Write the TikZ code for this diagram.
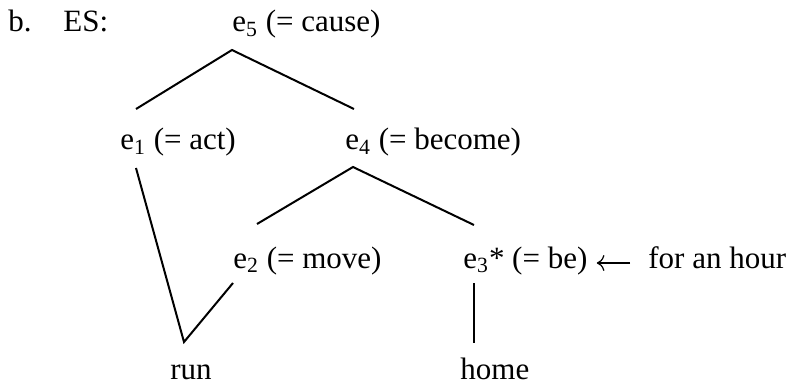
\documentclass[tikz,border=0pt]{standalone}
\usepackage{fontspec}
\setmainfont{Liberation Serif}
\usetikzlibrary{arrows.meta}
\usetikzlibrary{positioning}
\tikzset{
  ev/.style={inner sep=0pt, anchor=base west, font=\fontsize{15.5}{18}\selectfont},
  ramo/.style={line width=1pt},
  seta/.style={-{To[scale=1.3]}, line width=0.6pt},
}
\begin{document}
\begin{tikzpicture}[x=0.5pt, y=-0.5pt]
  \useasboundingbox (0,0) rectangle (793,385);
  \node[ev] (b) at (8,32) {b.};
  \node[ev, base right=15.5pt of b] (es) {ES:};
  \node[ev] (e5) at (232,32) {e\textsubscript{5} (= cause)};
  \node[ev] (e1) at (120,150) {e\textsubscript{1} (= act)};
  \node[ev] (e4) at (345,150) {e\textsubscript{4} (= become)};
  \node[ev] (e2) at (233,268) {e\textsubscript{2} (= move)};
  \node[ev] (e3) at (463,268) {e\textsubscript{3}* (= be)};
  \node[ev] (hour) at (648,268) {for an hour};
  \node[ev] (run) at (170,379) {run};
  \node[ev] (home) at (460,379) {home};
  % tree branches
  \draw[ramo] ([shift={(16,-41)}]e1.base west) -- ([shift={(0,18)}]e5.base west) -- ([shift={(9,-41)}]e4.base west);
  \draw[ramo] ([shift={(24,-44)}]e2.base west) -- ([shift={(8,17)}]e4.base west) -- ([shift={(11,-43)}]e3.base west);
  \draw[ramo] ([shift={(16,18)}]e1.base west) -- ([shift={(14,-37)}]run.base west) -- ([shift={(0,15)}]e2.base west);
  \draw[ramo] ([shift={(11,15)}]e3.base west) -- ([shift={(14,-36)}]home.base west);
  \draw[seta] ([shift={(-18,-5)}]hour.base west) -- ([shift={(9,-5)}]e3.base east);
\end{tikzpicture}
\end{document}
